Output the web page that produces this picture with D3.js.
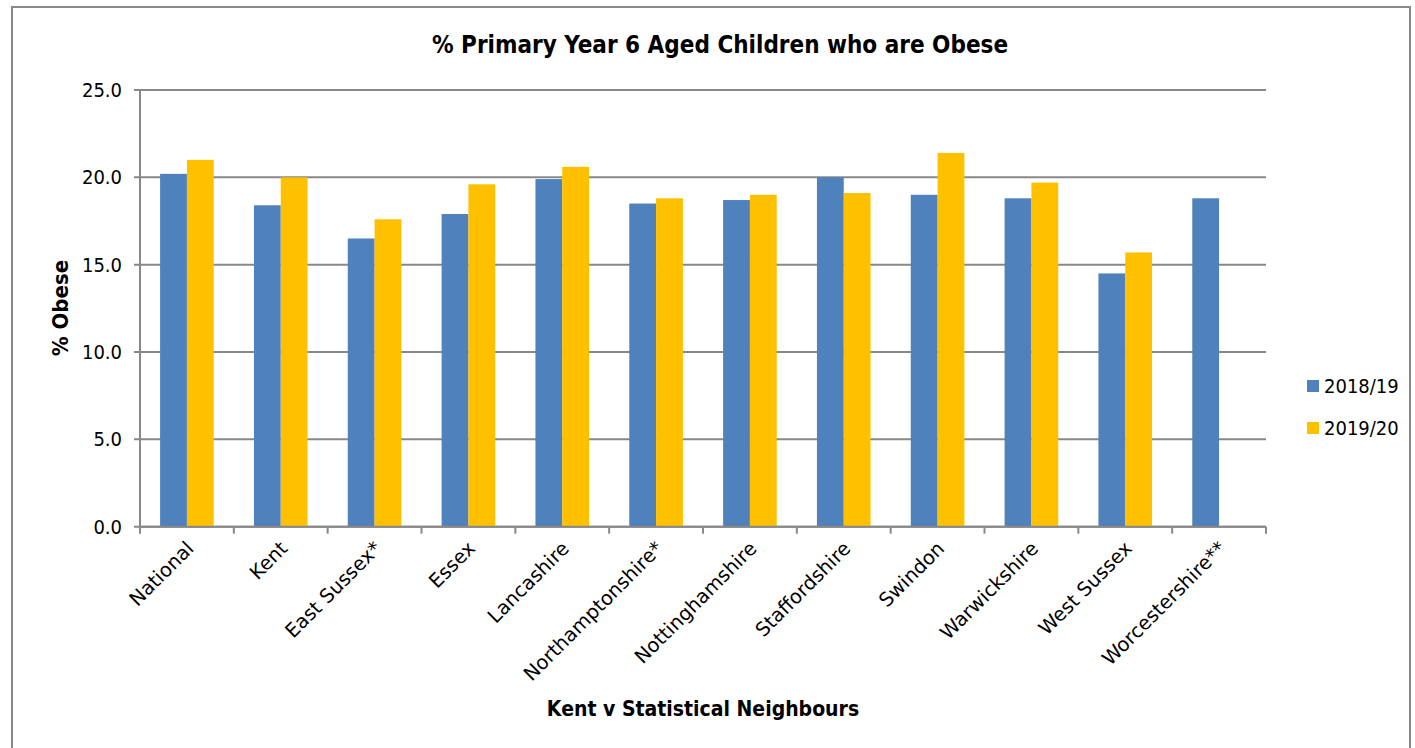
<!DOCTYPE html>
<html><head><meta charset="utf-8">
<script src="https://cdn.jsdelivr.net/npm/d3@7/dist/d3.min.js"></script>
<style>body{margin:0;background:#fff}svg{display:block}</style>
</head><body><svg id="c" width="1415" height="748"></svg>
<script>
const categories = ["National","Kent","East Sussex*","Essex","Lancashire","Northamptonshire*","Nottinghamshire","Staffordshire","Swindon","Warwickshire","West Sussex","Worcestershire**"];
const series2018 = [20.2,18.4,16.5,17.9,19.9,18.5,18.7,20.0,19.0,18.8,14.5,18.8];
const series2019 = [21.0,20.0,17.6,19.6,20.6,18.8,19.0,19.1,21.4,19.7,15.7,null];
const seriesNames = ["2018/19","2019/20"];
const yTicks = [0,5,10,15,20,25];

const colors = ["#4F81BD","#FFC000"];
const font = "'DejaVu Sans Condensed','DejaVu Sans',sans-serif";
const fontW = "'DejaVu Sans',sans-serif";
const svg = d3.select("#c");
const M = {l:140,r:1266,t:90,b:526.7};

// frame
svg.append("rect").attr("x",12).attr("y",7).attr("width",1398).attr("height",760)
  .attr("fill","none").attr("stroke","#888").attr("stroke-width",2);

const x = d3.scaleBand().domain(categories).range([M.l,M.r]).padding(0);
const y = d3.scaleLinear().domain([0,25]).range([M.b,M.t]);
const bw = x.bandwidth()/3.5;

// gridlines
svg.append("g").selectAll("line").data(yTicks).join("line")
  .attr("x1",M.l-6).attr("x2",M.r).attr("y1",d=>y(d)).attr("y2",d=>y(d))
  .attr("stroke","#888").attr("stroke-width",2);

// y axis line
svg.append("line").attr("x1",M.l).attr("x2",M.l).attr("y1",M.t).attr("y2",M.b)
  .attr("stroke","#888").attr("stroke-width",2);

// bars
const data = [];
categories.forEach((c,i)=>{
  [series2018[i],series2019[i]].forEach((v,j)=>{ if(v!=null) data.push({c,v,j}); });
});
svg.append("g").selectAll("rect").data(data).join("rect")
  .attr("x",d=>x(d.c)+x.bandwidth()/2 - bw + d.j*bw)
  .attr("width",bw)
  .attr("y",d=>y(d.v)).attr("height",d=>y(0)-y(d.v))
  .attr("fill",d=>colors[d.j]);

// x axis line and ticks
svg.append("line").attr("x1",M.l).attr("x2",M.r).attr("y1",M.b).attr("y2",M.b)
  .attr("stroke","#888").attr("stroke-width",2);
const bounds = categories.map(c=>x(c)).concat([M.r]);
svg.append("g").selectAll("line").data(bounds).join("line")
  .attr("x1",d=>d).attr("x2",d=>d).attr("y1",M.b).attr("y2",M.b+7)
  .attr("stroke","#888").attr("stroke-width",2);

// y tick labels
svg.append("g").selectAll("text").data(yTicks).join("text")
  .attr("x",M.l-18).attr("y",d=>y(d)).attr("dy","0.35em")
  .attr("text-anchor","end").attr("font-family",font).attr("font-size",20).attr("fill","#000")
  .text(d=>d.toFixed(1));

// x labels
svg.append("g").selectAll("text").data(categories).join("text")
  .attr("transform",c=>`translate(${x(c)+x.bandwidth()/2+8},${M.b+23}) rotate(-45)`)
  .attr("text-anchor","end").attr("font-family",fontW).attr("font-size",19.5).attr("fill","#000")
  .text(c=>c);

// titles
svg.append("text").attr("x",720).attr("y",53).attr("text-anchor","middle")
  .attr("font-family",font).attr("font-weight","bold").attr("font-size",24).text("% Primary Year 6 Aged Children who are Obese");
svg.append("text").attr("x",703).attr("y",716).attr("text-anchor","middle")
  .attr("font-family",font).attr("font-weight","bold").attr("font-size",21).text("Kent v Statistical Neighbours");
svg.append("text").attr("transform","translate(68,308) rotate(-90)").attr("text-anchor","middle")
  .attr("font-family",font).attr("font-weight","bold").attr("font-size",22).text("% Obese");

// legend
const lg = svg.append("g").selectAll("g").data(seriesNames).join("g")
  .attr("transform",(d,i)=>`translate(1307,${386+i*42})`);
lg.append("rect").attr("x",0).attr("y",-6).attr("width",12).attr("height",12).attr("fill",(d,i)=>colors[i]);
lg.append("text").attr("x",17).attr("dy","0.35em").attr("font-family",font).attr("font-size",20).text(d=>d);
</script></body></html>
